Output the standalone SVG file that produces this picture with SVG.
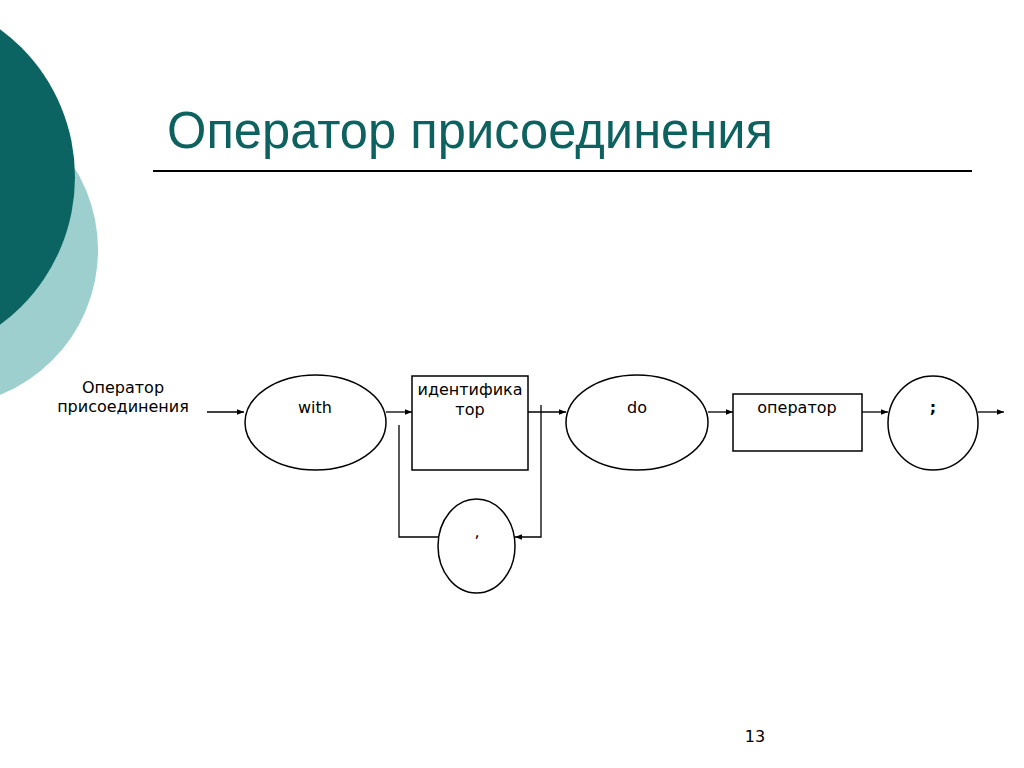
<svg xmlns="http://www.w3.org/2000/svg" width="1024" height="768" viewBox="0 0 1024 768">
<style>
.n{fill:#fff;stroke:#000;stroke-width:1.5}
.t{font-family:"DejaVu Sans",Verdana,sans-serif;font-size:16px;fill:#000;text-anchor:middle}
.c{fill:none;stroke:#000;stroke-width:1.3}
</style>
<defs>
<marker id="a" viewBox="0 0 10 10" refX="10" refY="5" markerWidth="7" markerHeight="7" markerUnits="userSpaceOnUse" orient="auto">
<path d="M0,1 L10,5 L0,9 z" fill="#000"/>
</marker>
</defs>
<rect width="1024" height="768" fill="#fff"/>
<g id="background">
<circle cx="-58" cy="250" r="156" fill="#9ccfcd"/>
<circle cx="-108" cy="177" r="183" fill="#0b6461"/>
</g>
<g id="title">
<text x="167" y="148" font-family="'Liberation Sans',Arial,sans-serif" font-size="52" fill="#0d625f" textLength="606" lengthAdjust="spacingAndGlyphs">Оператор присоединения</text>
<line x1="153" y1="171" x2="972" y2="171" stroke="#000" stroke-width="2"/>
</g>
<g id="start-label">
<text class="t" x="123" y="393" font-size="14">Оператор</text>
<text class="t" x="123" y="412" font-size="14">присоединения</text>
</g>
<g id="connectors">
<line class="c" x1="207" y1="412" x2="244" y2="412" marker-end="url(#a)"/>
<line class="c" x1="386" y1="412" x2="412" y2="412" marker-end="url(#a)"/>
<line class="c" x1="528" y1="412" x2="566" y2="412" marker-end="url(#a)"/>
<polyline class="c" points="541,405 541,537 515,537" marker-end="url(#a)"/>
<polyline class="c" points="399,425 399,537 438,537"/>
<line class="c" x1="708" y1="412" x2="733" y2="412" marker-end="url(#a)"/>
<line class="c" x1="862" y1="412" x2="888" y2="412" marker-end="url(#a)"/>
<line class="c" x1="978" y1="412" x2="1004" y2="412" marker-end="url(#a)"/>
</g>
<g id="node-with">
<ellipse class="n" cx="315.5" cy="422.5" rx="70.5" ry="47.5"/>
<text class="t" x="315" y="413">with</text>
</g>
<g id="node-identifier">
<rect class="n" x="412" y="376" width="116" height="94"/>
<text class="t" x="470" y="395">идентифика</text>
<text class="t" x="470" y="415">тор</text>
</g>
<g id="node-comma">
<ellipse class="n" cx="476.5" cy="546" rx="38.5" ry="47"/>
<text class="t" x="477" y="537">,</text>
</g>
<g id="node-do">
<ellipse class="n" cx="637" cy="422.5" rx="71" ry="47.5"/>
<text class="t" x="637" y="413">do</text>
</g>
<g id="node-operator">
<rect class="n" x="733" y="394" width="129" height="57"/>
<text class="t" x="797" y="413">оператор</text>
</g>
<g id="node-semicolon">
<ellipse class="n" cx="933" cy="423" rx="45" ry="47"/>
<text class="t" x="933" y="413" font-weight="bold">;</text>
</g>
<text class="t" x="755" y="742" font-size="16">13</text>
</svg>
